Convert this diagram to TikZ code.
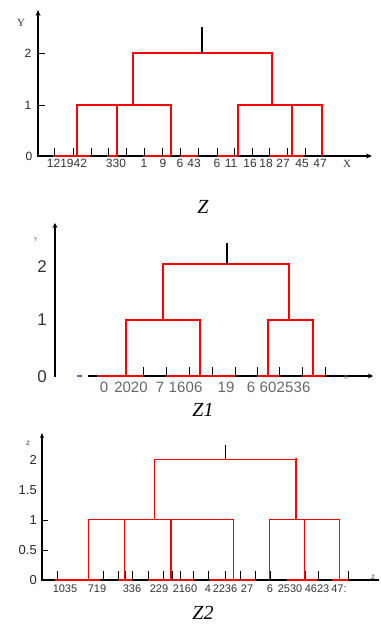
\documentclass[tikz,border=0pt]{standalone}
\usepackage{fontspec}
\setmainfont{Liberation Serif}
\setsansfont{Liberation Sans}
\usetikzlibrary{arrows.meta}
\tikzset{
  axisline/.style={black, line width=1.3pt},
  axisarrow/.style={axisline, -{Stealth[length=6pt,width=5pt]}},
  tickmark/.style={black, line width=0.9pt},
  basered/.style={red, line width=2pt},
  den/.style={red, line width=1.8pt, line join=miter},
  denthick/.style={red, line width=2.8pt},
  denthin/.style={red, line width=1pt, line join=miter},
  stem/.style={black, line width=1.3pt},
  lab/.style={font=\sffamily\fontsize{12}{13}\selectfont, text=black!80, inner sep=0pt},
  labB/.style={font=\sffamily\fontsize{15}{16}\selectfont, text=black!60, inner sep=0pt},
  labC/.style={font=\sffamily\fontsize{11}{12}\selectfont, text=black!80, inner sep=0pt},
  ylab/.style={font=\sffamily\fontsize{12}{13}\selectfont, text=black!85, inner sep=0pt},
  ylabB/.style={font=\sffamily\fontsize{17}{18}\selectfont, text=black!80, inner sep=0pt},
  ylabC/.style={font=\sffamily\fontsize{13}{14}\selectfont, text=black!85, inner sep=0pt, anchor=east},
  axname/.style={font=\fontsize{11}{12}\selectfont, text=black!80, inner sep=0pt},
  caption/.style={font=\itshape\fontsize{20}{22}\selectfont, inner sep=0pt}
}
\begin{document}
\begin{tikzpicture}[x=1pt,y=-1pt]
\useasboundingbox (0,0) rectangle (380,631);

% ================= Panel Z =================
\draw[axisarrow] (38,157) -- (38,10);
\draw[axisarrow] (37,156) -- (372,156);
\foreach \a/\b in {53/90,107/118,143/170,180/198,217/238,269/304}
  \draw[basered] (\a,156) -- (\b,156);
\foreach \x in {54,73,91,108,126,144,162,180,198,217,234,252,269,287,305}
  \draw[tickmark] (\x,156) -- (\x,148);
\draw[tickmark] (38,53) -- (45,53);
\draw[tickmark] (38,105) -- (45,105);
\draw[den] (77,156) -- (77,105) -- (171,105) -- (171,156);
\draw[denthick] (117,156) -- (117,105);
\draw[den] (238,156) -- (238,105) -- (322,105) -- (322,156);
\draw[denthick] (292,156) -- (292,105);
\draw[den] (133,105) -- (133,53) -- (272,53) -- (272,105);
\draw[stem] (202,53) -- (202,27);
\node[ylab] (za2) at (28,53) {2};
\node[ylab] (za1) at (28,105) {1};
\node[ylab] (za0) at (29,156) {0};
\node[axname] (zay) at (21,23) {Y};
\node[axname] (zax) at (347,164) {X};
\foreach \t/\x [count=\i] in {121942/67,330/116,1/144,9/163,6/180,43/194,6/217,11/231,16/250,18/266,27/283,45/302,47/320}
  \node[lab] (zl\i) at (\x,163) {\t};
\node[caption] (capz) at (203,207) {Z};

% ================= Panel Z1 =================
\draw[axisline, line width=1.8pt, -{Stealth[length=5pt,width=5pt]}] (55,377) -- (55,223);
\draw[axisline, line width=1.8pt, -{Stealth[length=5pt,width=5pt]}] (88,376) -- (373,376);
\draw[draw=violet!70, line width=1.5pt] (77,376) -- (82,376);
\foreach \a/\b in {97/143,166/235,257/279,302/325}
  \draw[basered] (\a,376) -- (\b,376);
\foreach \x in {126,143,166,189,212,235,257,279,302,325}
  \draw[tickmark] (\x,376) -- (\x,367);
\draw[den, line width=2.2pt] (126,376) -- (126,320) -- (200,320) -- (200,376);
\draw[den, line width=2.2pt] (268,376) -- (268,320) -- (313,320) -- (313,376);
\draw[den, line width=2.2pt] (163,320) -- (163,264) -- (289,264) -- (289,320);
\draw[stem] (227,264) -- (227,243);
\node[ylabB] (zb2) at (42,267) {2};
\node[ylabB] (zb1) at (42,320) {1};
\node[ylabB] (zb0) at (42,377) {0};
\node[font=\sffamily\fontsize{6}{7}\selectfont, text=black!60, inner sep=0pt] (zby) at (36,239) {Y};
\node[font=\sffamily\fontsize{8}{9}\selectfont, text=black!50, inner sep=0pt] (zbx) at (346,377) {x};
\foreach \t/\x [count=\i] in {0/104,2020/131,7/160,16/177,06/194,19/226,6/251,60/268,25/285,36/302}
  \node[labB] (zbl\i) at (\x,387) {\t};
\node[caption] (capz1) at (203,410) {Z1};

% ================= Panel Z2 =================
\draw[axisline, line width=1.1pt, -{Stealth[length=5pt,width=4pt]}] (42,581) -- (42,433);
\draw[axisline, line width=1.1pt] (41,580) -- (379,580);
\draw[tickmark] (42,520) -- (48,520);
\draw[tickmark] (42,550) -- (48,550);
\foreach \a/\b in {55/100,118/132,148/193,210/255,287/317,332/348}
  \draw[basered] (\a,580) -- (\b,580);
\foreach \x in {57,88,103,118,125,132,148,163,172,180,193,208,225,233,240,255,270,305,318,348}
  \draw[tickmark] (\x,580) -- (\x,571);
\draw[denthin] (88,580) -- (88,519) -- (233,519) -- (233,580);
\draw[denthin] (124,580) -- (124,519);
\draw[denthick] (171,580) -- (171,519);
\draw[denthin] (269,580) -- (269,519) -- (339,519) -- (339,580);
\draw[denthin] (304,580) -- (304,519);
\draw[denthin] (154,519) -- (154,459) -- (296,459);
\draw[red, line width=2.2pt] (296,458) -- (296,519);
\draw[black, line width=1pt] (225,459) -- (225,445);
\node[ylabC] (zc2) at (37,460) {2};
\node[ylabC] (zc15) at (37,490) {1.5};
\node[ylabC] (zc1) at (37,520) {1};
\node[ylabC] (zc05) at (37,550) {0.5};
\node[ylabC] (zc0) at (37,580) {0};
\node[font=\sffamily\fontsize{8}{9}\selectfont, text=black!70, inner sep=0pt] (zcy) at (28,443) {z};
\node[font=\sffamily\fontsize{8}{9}\selectfont, text=black!70, inner sep=0pt] (zcx) at (373,577) {z};
\foreach \t/\x [count=\i] in {1035/65,719/97,336/132,229/159,2160/185,4/208,2236/225,27/247,6/270,2530/290,4623/317,47:/339}
  \node[labC] (zcl\i) at (\x,589) {\t};
\node[caption] (capz2) at (203,613) {Z2};
\end{tikzpicture}
\end{document}
